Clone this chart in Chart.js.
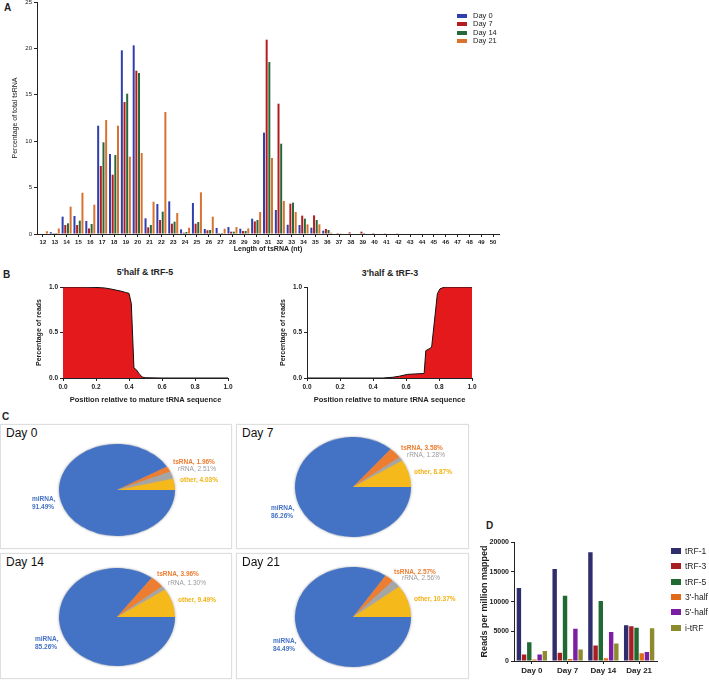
<!DOCTYPE html>
<html>
<head>
<meta charset="utf-8">
<script src="https://cdn.jsdelivr.net/npm/chart.js@4.4.0/dist/chart.umd.min.js"></script>
<style>
  body { margin: 0; background: #fff; font-family: "Liberation Sans", Arial, sans-serif; color: #222; }
  #page { position: relative; width: 709px; height: 680px; overflow: hidden; }
  canvas { position: absolute; }
  .txt { position: absolute; white-space: nowrap; transform: translateY(-50%); }
  .letter { font-weight: bold; font-size: 10px; }
  .sub { font-weight: bold; font-size: 8.8px; transform: translate(-50%, -50%); }
  .box { position: absolute; border: 1px solid #dedede; box-shadow: 0 0 1px rgba(0,0,0,0.12); }
  .boxTitle { position: absolute; font-size: 12px; color: #111; }
  .pieWrap { position: absolute; width: 116px; height: 116px; }
  .pieWrap canvas { filter: drop-shadow(0 0 1.5px rgba(0,0,0,0.35)); }
  .plab { position: absolute; font-size: 6.5px; font-weight: bold; white-space: nowrap; line-height: 8px; transform: translateY(-50%); }
  .leg { position: absolute; white-space: nowrap; }
  .leg i { position: absolute; display: block; }
</style>
</head>
<body>
<div id="page">
  <div class="txt letter" style="left:4px;top:7px">A</div>
  <div class="txt letter" style="left:3px;top:274px">B</div>
  <div class="txt letter" style="left:2px;top:416px">C</div>
  <div class="txt letter" style="left:486px;top:525px">D</div>

  <canvas id="chartA" width="505" height="262" style="left:0;top:-6px"></canvas>
  <div id="legendA"></div>

  <div class="txt sub" style="left:145px;top:272px">5'half &amp; tRF-5</div>
  <div class="txt sub" style="left:390px;top:273px">3'half &amp; tRF-3</div>
  <canvas id="chartB5" width="240" height="126" style="left:0;top:280px"></canvas>
  <canvas id="chartB3" width="240" height="126" style="left:244px;top:280px"></canvas>

  <div id="pies"></div>

  <canvas id="chartD" width="195" height="144" style="left:470px;top:536px"></canvas>
  <div id="legendD"></div>
</div>

<script>
// ---- Panel A: length distribution of tsRNA ----
const lengthLabels = ['12','13','14','15','16','17','18','19','20','21','22','23','24','25','26','27','28','29','30','31',
  '32','33','34','35','36','37','38','39','40','41','42','43','44','45','46','47','48','49','50'];
const dayNames = ['Day 0', 'Day 7', 'Day 14', 'Day 21'];
const lenDay0 = [0.05, 0.2, 1.87, 1.94, 1.4, 11.67, 8.62, 19.79, 20.33, 1.69, 3.23, 3.52, 0.5, 3.34, 0.54, 0.65, 0.75, 0.57, 1.65, 10.92,
  2.59, 1.0, 0.97, 0.68, 0.36, 0, 0, 0.05, 0, 0, 0, 0, 0, 0, 0, 0, 0, 0, 0];
const lenDay7 = [0, 0.1, 0.97, 0.97, 0.6, 7.33, 6.39, 14.22, 17.6, 0.72, 1.51, 1.11, 0.14, 1.11, 0.4, 0.1, 0.25, 0.32, 1.36, 20.94,
  14.04, 3.27, 1.98, 2.01, 0.54, 0.1, 0.18, 0.25, 0.1, 0.08, 0.08, 0, 0, 0, 0, 0, 0, 0, 0];
const lenDay14 = [0.05, 0.1, 1.15, 1.44, 1.08, 9.88, 8.51, 15.12, 17.35, 0.97, 2.41, 1.33, 0.22, 1.29, 0.43, 0.1, 0.25, 0.32, 1.51, 18.53,
  9.73, 3.38, 1.65, 1.51, 0.43, 0.07, 0.05, 0.1, 0, 0, 0, 0, 0, 0, 0, 0, 0, 0, 0];
const lenDay21 = [0.3, 0.6, 2.95, 4.45, 3.16, 12.28, 11.67, 8.33, 8.73, 3.48, 13.15, 2.26, 0.68, 4.49, 1.87, 0.57, 0.75, 0.61, 2.37, 8.19,
  3.56, 2.37, 1.04, 1.04, 0.14, 0, 0, 0, 0, 0, 0, 0, 0, 0, 0, 0, 0, 0, 0];
const dayColors = ['#2f3fae', '#b31d1f', '#27693a', '#d9722f'];

// ---- Panel B: cumulative read position ----
const pos5 = [0, 0.1, 0.2, 0.25, 0.29, 0.35, 0.38, 0.4, 0.414, 0.43, 0.445, 0.46, 0.47, 0.48, 0.5, 0.6, 0.8, 1.0];
const frac5 = [1.0, 1.0, 0.995, 0.99, 0.978, 0.955, 0.94, 0.93, 0.82, 0.11, 0.09, 0.05, 0.03, 0.01, 0.003, 0, 0, 0];
const pos3 = [0, 0.2, 0.4, 0.46, 0.52, 0.56, 0.61, 0.66, 0.71, 0.72, 0.75, 0.756, 0.79, 0.806, 0.836, 0.9, 1.0];
const frac3 = [0, 0, 0, 0, 0.008, 0.02, 0.04, 0.045, 0.05, 0.3, 0.33, 0.35, 0.925, 0.98, 1.0, 1.0, 1.0];

// ---- Panel C: RNA composition ----
const rnaTypes = ['miRNA', 'tsRNA', 'rRNA', 'other'];
const pieDay0 = [91.49, 1.96, 2.51, 4.03];
const pieDay7 = [86.26, 3.58, 1.28, 8.87];
const pieDay14 = [85.26, 3.96, 1.30, 9.49];
const pieDay21 = [84.49, 2.57, 2.56, 10.37];
const rnaColors = ['#4472c4', '#ed7d31', '#a5a5a5', '#f5b91c'];
const rnaTextColors = ['#4472c4', '#ed7d31', '#9a9a9a', '#f2b10f'];

// ---- Panel D: reads per million mapped ----
const fragDays = ['Day 0', 'Day 7', 'Day 14', 'Day 21'];
const fragTypes = ['tRF-1', 'tRF-3', 'tRF-5', "3'-half", "5'-half", 'i-tRF'];
const rpmTRF1 = [12300, 15500, 18300, 6000];
const rpmTRF3 = [1100, 1400, 2600, 5850];
const rpmTRF5 = [3150, 11000, 10100, 5600];
const rpmHalf3 = [250, 350, 450, 1300];
const rpmHalf5 = [1100, 5450, 4900, 1500];
const rpmITRF = [1700, 1950, 2950, 5500];
const fragColors = ['#2f2d6c', '#a71f23', '#1f6a33', '#e06a18', '#7b1ea3', '#8e8a2e'];

Chart.defaults.font.family = '"Liberation Sans", Arial, sans-serif';
Chart.defaults.color = '#222';
Chart.defaults.animation = false;
Chart.defaults.plugins.legend.display = false;
Chart.defaults.plugins.tooltip.enabled = false;

// black axis line with outward tick marks, no gridlines
function axis(fontSize, bold, extra) {
  const { ticks, ...rest } = extra;
  return Object.assign({
    grid: { display: true, drawOnChartArea: false, drawTicks: true, tickLength: 3, color: '#222', offset: false },
    border: { display: true, color: '#222', width: 1 },
    ticks: Object.assign({ color: '#222', font: { size: fontSize, weight: bold ? 'bold' : 'normal' }, padding: 2, autoSkip: false, maxRotation: 0 }, ticks)
  }, rest);
}

function axisTitle(text, size, bold, padding) {
  return { display: true, text, color: '#222', font: { size, weight: bold ? 'bold' : 'normal' }, padding };
}

// Panel A
new Chart(document.getElementById('chartA'), {
  type: 'bar',
  data: {
    labels: lengthLabels,
    datasets: [lenDay0, lenDay7, lenDay14, lenDay21].map((d, i) => ({
      label: dayNames[i], data: d, backgroundColor: dayColors[i],
      categoryPercentage: 0.9, barPercentage: 0.75
    }))
  },
  options: {
    responsive: false,
    layout: { padding: { top: 8, right: 6, left: 0, bottom: 0 } },
    scales: {
      x: axis(6, true, {
        title: axisTitle('Length of tsRNA (nt)', 7, true, { top: 0, bottom: 3 }),
        afterFit: s => { s.height = 22; }
      }),
      y: axis(6, false, {
        min: 0, max: 25,
        ticks: { stepSize: 5 },
        title: axisTitle('Percentage of total tsRNA', 7, false, { top: 11, bottom: 0 }),
        afterFit: s => { s.width = 37; }
      })
    }
  }
});

// Panel B
function coverChart(id, xs, ys) {
  new Chart(document.getElementById(id), {
    type: 'line',
    data: {
      datasets: [{
        data: xs.map((x, i) => ({ x, y: ys[i] })),
        borderColor: '#111', borderWidth: 1, backgroundColor: '#e3191c',
        fill: 'origin', pointRadius: 0, tension: 0
      }]
    },
    options: {
      responsive: false,
      layout: { padding: { top: 7, right: 12, left: 0, bottom: 0 } },
      scales: {
        x: axis(6.5, true, {
          type: 'linear', min: 0, max: 1,
          ticks: { stepSize: 0.2, callback: v => v.toFixed(1) },
          title: axisTitle('Position relative to mature tRNA sequence', 7.5, true, { top: 0, bottom: 1.5 }),
          afterFit: s => { s.height = 28; }
        }),
        y: axis(6.5, true, {
          min: 0, max: 1,
          ticks: { stepSize: 0.5, callback: v => v.toFixed(1) },
          title: axisTitle('Percentage of reads', 7, true, { top: 35, bottom: 0 }),
          afterFit: s => { s.width = 63; }
        })
      }
    }
  });
}
coverChart('chartB5', pos5, frac5);
coverChart('chartB3', pos3, frac3);

// Panel C
const boxes = [
  { x: 0, y: 424, w: 232, h: 125, cx: 117, cy: 490, ry: 46, title: 'Day 0', data: pieDay0,
    lab: [[32, 499], [173, 462], [178, 469], [180, 480]] },
  { x: 236, y: 424, w: 233, h: 125, cx: 353, cy: 487, ry: 50, title: 'Day 7', data: pieDay7,
    lab: [[271, 508], [401, 448], [407, 455], [414, 472]] },
  { x: 0, y: 553, w: 232, h: 126, cx: 117, cy: 617, ry: 49, title: 'Day 14', data: pieDay14,
    lab: [[35, 639], [157, 574], [168, 583], [178, 600]] },
  { x: 236, y: 553, w: 233, h: 126, cx: 353, cy: 617, ry: 50, title: 'Day 21', data: pieDay21,
    lab: [[273, 641], [394, 572], [402, 578], [414, 599]] }
];
const pies = document.getElementById('pies');
boxes.forEach(b => {
  const box = document.createElement('div');
  box.className = 'box';
  Object.assign(box.style, { left: b.x + 'px', top: b.y + 'px', width: (b.w - 2) + 'px', height: (b.h - 2) + 'px' });
  pies.appendChild(box);

  const t = document.createElement('div');
  t.className = 'boxTitle';
  t.textContent = b.title;
  Object.assign(t.style, { left: (b.x + 6) + 'px', top: (b.y + 2) + 'px' });
  pies.appendChild(t);

  const wrap = document.createElement('div');
  wrap.className = 'pieWrap';
  Object.assign(wrap.style, { left: (b.cx - 58) + 'px', top: (b.cy - 58) + 'px', transform: 'scaleY(' + (b.ry / 58) + ')' });
  const c = document.createElement('canvas');
  c.width = 116; c.height = 116;
  c.style.left = '0'; c.style.top = '0';
  wrap.appendChild(c);
  pies.appendChild(wrap);
  new Chart(c, {
    type: 'pie',
    data: { labels: rnaTypes, datasets: [{ data: b.data, backgroundColor: rnaColors, borderWidth: 0 }] },
    options: { responsive: false, rotation: 90, layout: { padding: 0 } }
  });

  rnaTypes.forEach((name, i) => {
    const l = document.createElement('div');
    l.className = 'plab';
    l.style.color = rnaTextColors[i];
    if (i === 2) l.style.fontWeight = 'normal';
    l.style.left = b.lab[i][0] + 'px';
    if (i === 0) {
      l.innerHTML = name + ',<br>' + b.data[i].toFixed(2) + '%';
      l.style.top = (b.lab[i][1] + 4) + 'px';
    } else {
      l.textContent = name + ', ' + b.data[i].toFixed(2) + '%';
      l.style.top = b.lab[i][1] + 'px';
    }
    pies.appendChild(l);
  });
});

// Panel D
new Chart(document.getElementById('chartD'), {
  type: 'bar',
  data: {
    labels: fragDays,
    datasets: [rpmTRF1, rpmTRF3, rpmTRF5, rpmHalf3, rpmHalf5, rpmITRF].map((d, i) => ({
      label: fragTypes[i], data: d, backgroundColor: fragColors[i],
      categoryPercentage: 0.87, barPercentage: 0.85
    }))
  },
  options: {
    responsive: false,
    layout: { padding: { top: 6, right: 8, left: 0, bottom: 0 } },
    scales: {
      x: axis(8, true, { afterFit: s => { s.height = 19; } }),
      y: axis(7, true, {
        min: 0, max: 20000,
        ticks: { stepSize: 5000, callback: v => String(v) },
        title: axisTitle('Reads per million mapped', 9, true, { top: 9.5, bottom: 0 }),
        afterFit: s => { s.width = 44; }
      })
    }
  }
});

// Legends
function legend(el, names, colors, o) {
  names.forEach((n, i) => {
    const row = document.createElement('div');
    row.className = 'leg';
    Object.assign(row.style, { left: o.x + 'px', top: (o.y + i * o.dy) + 'px', fontSize: o.font + 'px', lineHeight: '0' });
    const sw = document.createElement('i');
    Object.assign(sw.style, { left: '0', top: (-o.sh / 2) + 'px', width: o.sw + 'px', height: o.sh + 'px', background: colors[i] });
    const tx = document.createElement('span');
    tx.textContent = n;
    Object.assign(tx.style, { position: 'absolute', left: o.tx + 'px', top: '0', transform: 'translateY(-50%)', lineHeight: '1' });
    row.appendChild(sw); row.appendChild(tx);
    el.appendChild(row);
  });
}
legend(document.getElementById('legendA'), dayNames, dayColors, { x: 457, y: 16, dy: 8.3, sw: 10, sh: 4, tx: 16, font: 7.5 });
legend(document.getElementById('legendD'), fragTypes, fragColors, { x: 671, y: 551, dy: 15.3, sw: 10, sh: 6, tx: 14, font: 8.5 });
</script>
</body>
</html>
